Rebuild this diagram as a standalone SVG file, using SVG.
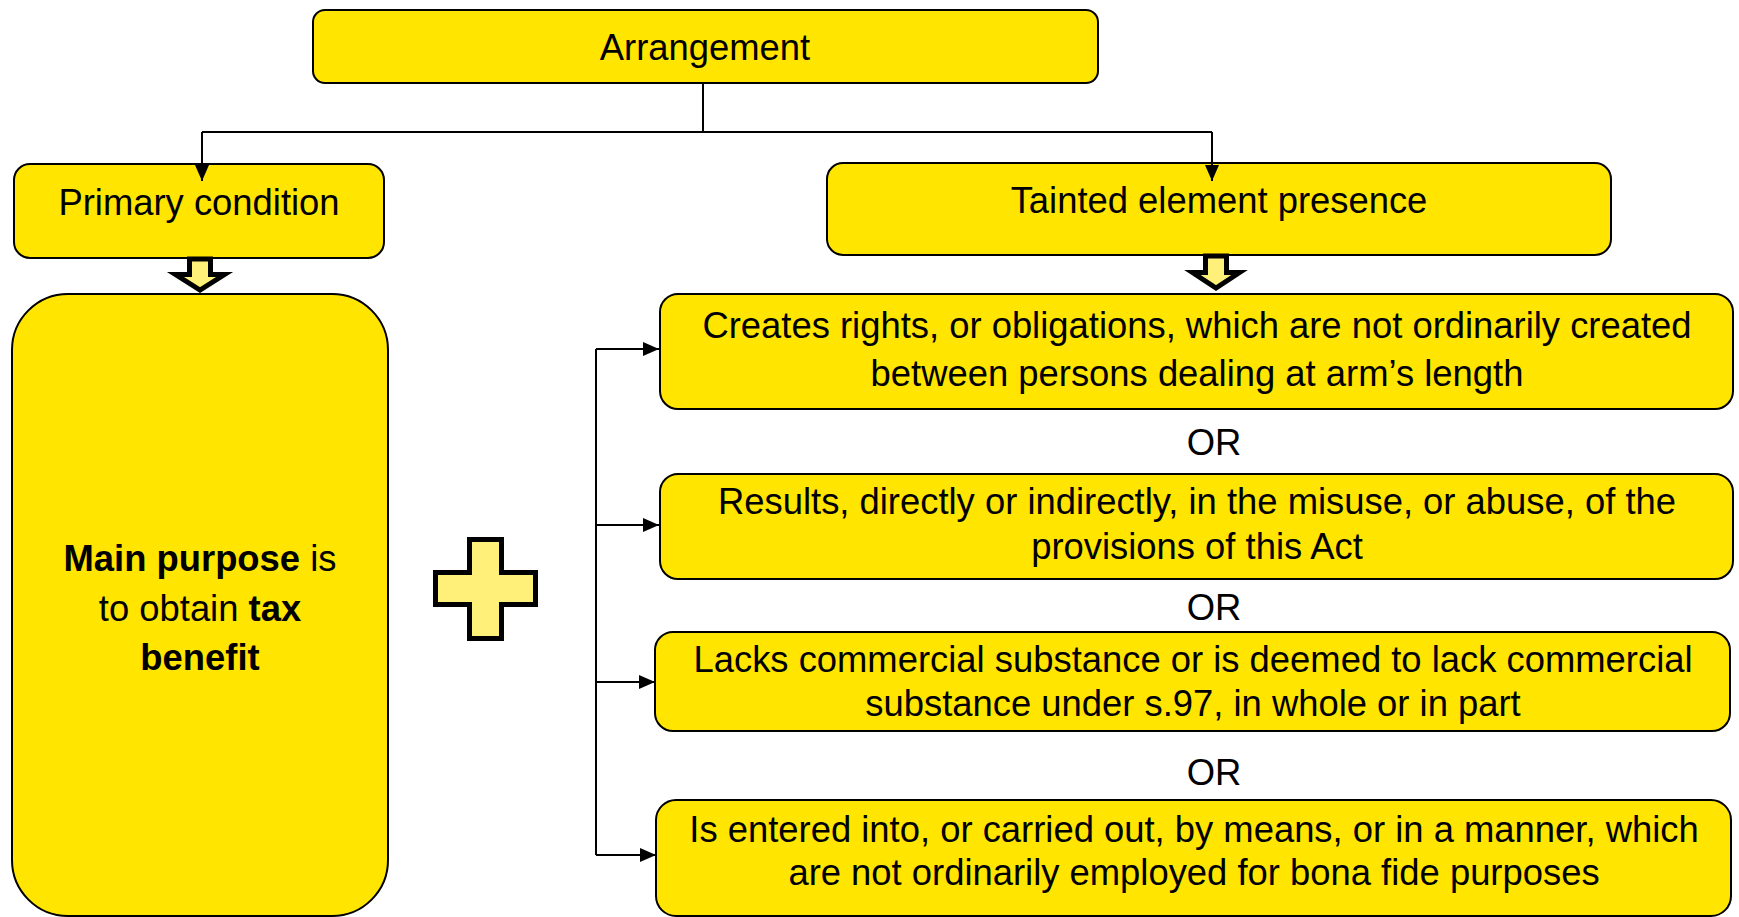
<svg xmlns="http://www.w3.org/2000/svg" width="1739" height="917" viewBox="0 0 1739 917">
  <style>
    .box { fill: #FFE500; stroke: #000; stroke-width: 2; }
    .txt { font-family: "Liberation Sans", Arial, sans-serif; font-size: 36.4px; fill: #000; text-anchor: middle; }
    .b { font-weight: bold; }
    .line { fill: none; stroke: #000; stroke-width: 2; }
    .block { fill: #FFF07A; stroke: #000; stroke-width: 5; stroke-linejoin: miter; }
  </style>
  <defs>
    <marker id="arrow" viewBox="0 0 16 14" refX="16" refY="7" markerWidth="16" markerHeight="14" markerUnits="userSpaceOnUse" orient="auto">
      <path d="M0,0 L16,7 L0,14 Z" fill="#000"/>
    </marker>
  </defs>
  <rect width="1739" height="917" fill="#fff"/>

  <g id="arrangement">
    <rect class="box" x="313" y="10" width="785" height="73" rx="12"/>
    <text class="txt" x="705" y="60">Arrangement</text>
  </g>

  <g id="primary-condition">
    <rect class="box" x="14" y="164" width="370" height="94" rx="16"/>
    <text class="txt" x="199" y="215">Primary condition</text>
  </g>

  <g id="main-purpose">
    <rect class="box" x="12" y="294" width="376" height="622" rx="56"/>
    <text class="txt" x="200" y="571"><tspan class="b">Main purpose</tspan> is</text>
    <text class="txt" x="200" y="621">to obtain <tspan class="b">tax</tspan></text>
    <text class="txt b" x="200" y="670">benefit</text>
  </g>

  <g id="plus">
    <path class="block" d="M469.5,539.5 H501.5 V572.5 H535.5 V604.5 H501.5 V638.5 H469.5 V604.5 H435.5 V572.5 H469.5 Z"/>
  </g>

  <g id="tainted-element">
    <rect class="box" x="827" y="163" width="784" height="92" rx="16"/>
    <text class="txt" x="1219" y="213">Tainted element presence</text>
  </g>

  <g id="rights-obligations">
    <rect class="box" x="660" y="294" width="1073" height="115" rx="18"/>
    <text class="txt" x="1197" y="338">Creates rights, or obligations, which are not ordinarily created</text>
    <text class="txt" x="1197" y="386">between persons dealing at arm’s length</text>
  </g>

  <g id="or-1"><text class="txt" x="1214" y="455">OR</text></g>

  <g id="misuse-abuse">
    <rect class="box" x="660" y="474" width="1073" height="105" rx="18"/>
    <text class="txt" x="1197" y="514">Results, directly or indirectly, in the misuse, or abuse, of the</text>
    <text class="txt" x="1197" y="559">provisions of this Act</text>
  </g>

  <g id="or-2"><text class="txt" x="1214" y="620">OR</text></g>

  <g id="commercial-substance">
    <rect class="box" x="655" y="632" width="1075" height="99" rx="18"/>
    <text class="txt" x="1193" y="672">Lacks commercial substance or is deemed to lack commercial</text>
    <text class="txt" x="1193" y="716">substance under s.97, in whole or in part</text>
  </g>

  <g id="or-3"><text class="txt" x="1214" y="785">OR</text></g>

  <g id="bona-fide">
    <rect class="box" x="656" y="800" width="1075" height="116" rx="20"/>
    <text class="txt" x="1194" y="842">Is entered into, or carried out, by means, or in a manner, which</text>
    <text class="txt" x="1194" y="885">are not ordinarily employed for bona fide purposes</text>
  </g>

  <g id="connectors">
    <path class="line" d="M703,83 V132"/>
    <path class="line" d="M202,132 H1212"/>
    <path class="line" d="M202,132 V181" marker-end="url(#arrow)"/>
    <path class="line" d="M1212,132 V181" marker-end="url(#arrow)"/>
    <path class="line" d="M596,349 V855"/>
    <path class="line" d="M596,349 H659" marker-end="url(#arrow)"/>
    <path class="line" d="M596,525 H659" marker-end="url(#arrow)"/>
    <path class="line" d="M596,682 H655" marker-end="url(#arrow)"/>
    <path class="line" d="M596,855 H656" marker-end="url(#arrow)"/>
    <!-- hollow block arrows under the two condition headers -->
    <path class="block" d="M189.5,259 H210.5 V274.5 H224.5 L200,290 L175.5,274.5 H189.5 Z"/>
    <path class="block" d="M1205.5,256 H1226.5 V272.5 H1239.5 L1216,288 L1192.5,272.5 H1205.5 Z"/>
  </g>
</svg>
